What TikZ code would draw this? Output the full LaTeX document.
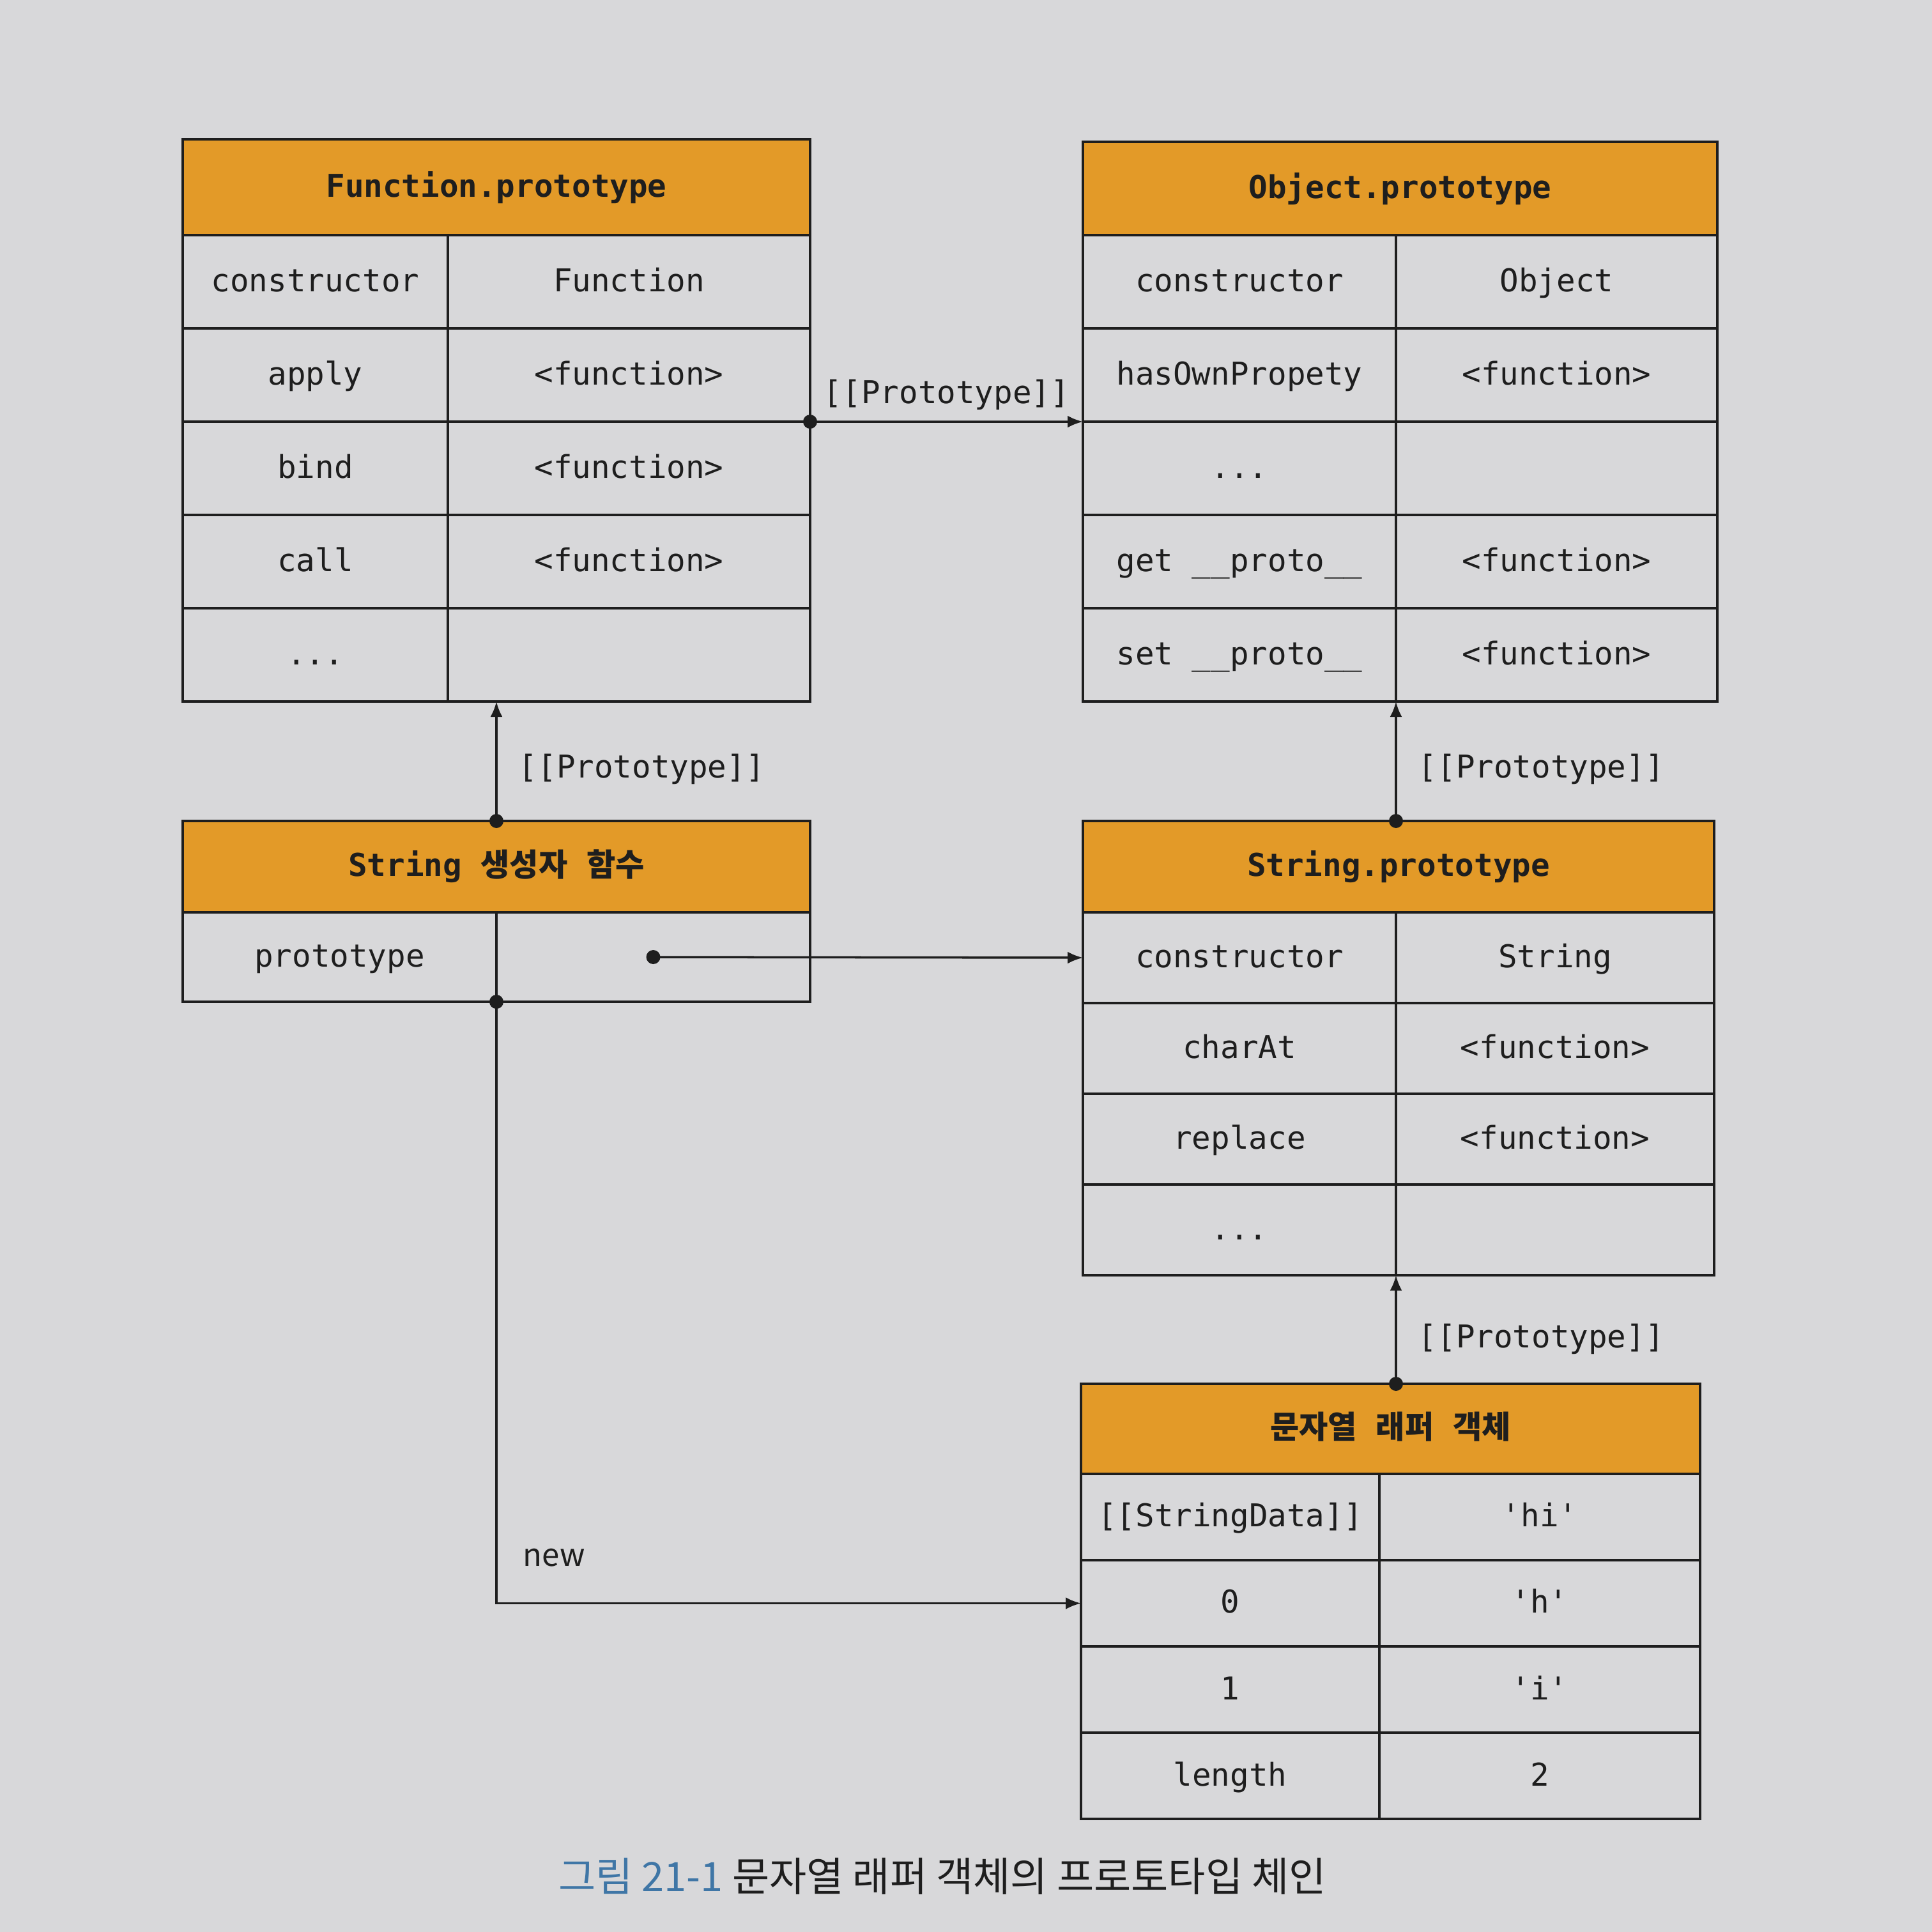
\documentclass[tikz,border=0pt]{standalone}
\usepackage{fontspec}
\setmonofont{DejaVu Sans Mono}
\newfontfamily\krfont{Noto Sans CJK KR}
\usetikzlibrary{arrows.meta,positioning}
\definecolor{paper}{HTML}{D8D8DA}
\definecolor{hdr}{HTML}{E39A28}
\definecolor{ink}{HTML}{1E1E1E}
\definecolor{capblue}{HTML}{3F76A6}
\newcommand\cellfont{\ttfamily\fontsize{14}{17}\selectfont}

\begin{document}
\begin{tikzpicture}[
  node distance=0pt,
  cell/.style={draw=ink,line width=1.3pt,inner sep=0pt,outer sep=0pt,text=ink,font=\cellfont,text height=0.88em,text depth=0pt},
  head/.style={cell,fill=hdr,font=\cellfont\bfseries},
  fnk/.style={cell,minimum width=4.15cm,minimum height=1.46cm},
  fnv/.style={cell,minimum width=5.67cm,minimum height=1.46cm},
  objk/.style={cell,minimum width=4.90cm,minimum height=1.46cm},
  objv/.style={cell,minimum width=5.03cm,minimum height=1.46cm},
  ctork/.style={cell,minimum width=4.91cm,minimum height=1.40cm},
  ctorv/.style={cell,minimum width=4.91cm,minimum height=1.40cm},
  spk/.style={cell,minimum width=4.90cm,minimum height=1.42cm},
  spv/.style={cell,minimum width=4.98cm,minimum height=1.42cm},
  wrapk/.style={cell,minimum width=4.67cm,minimum height=1.35cm},
  wrapv/.style={cell,minimum width=5.02cm,minimum height=1.35cm},
  link/.style={-{Latex[length=2.4mm,width=1.9mm]},line width=1pt,draw=ink},
  dot/.style={circle,fill=ink,inner sep=0pt,minimum size=2.2mm},
  lbl/.style={inner sep=0pt,text=ink,font=\cellfont}
]
  \fill[paper] (0,0) rectangle (30.24,-30.24);
  \useasboundingbox (0,0) rectangle (30.24,-30.24);

  % Function.prototype
  \node[head,minimum width=9.82cm,minimum height=1.50cm,anchor=north west] (fn) at (2.86,-2.18) {Function.prototype};
  \node[fnk,below=of fn.south west,anchor=north west] (fnk1) {constructor};
  \node[fnv,right=of fnk1] (fnv1) {Function};
  \node[fnk,below=of fnk1] (fnk2) {apply};
  \node[fnv,right=of fnk2] (fnv2) {<function>};
  \node[fnk,below=of fnk2] (fnk3) {bind};
  \node[fnv,right=of fnk3] (fnv3) {<function>};
  \node[fnk,below=of fnk3] (fnk4) {call};
  \node[fnv,right=of fnk4] (fnv4) {<function>};
  \node[fnk,below=of fnk4] (fnk5) {...};
  \node[fnv,right=of fnk5] (fnv5) {};

  % Object.prototype
  \node[head,minimum width=9.93cm,minimum height=1.46cm,anchor=north west] (obj) at (16.95,-2.22) {Object.prototype};
  \node[objk,below=of obj.south west,anchor=north west] (objk1) {constructor};
  \node[objv,right=of objk1] (objv1) {Object};
  \node[objk,below=of objk1] (objk2) {hasOwnPropety};
  \node[objv,right=of objk2] (objv2) {<function>};
  \node[objk,below=of objk2] (objk3) {...};
  \node[objv,right=of objk3] (objv3) {};
  \node[objk,below=of objk3] (objk4) {get \_\_proto\_\_};
  \node[objv,right=of objk4] (objv4) {<function>};
  \node[objk,below=of objk4] (objk5) {set \_\_proto\_\_};
  \node[objv,right=of objk5] (objv5) {<function>};

  % String constructor
  \node[head,minimum width=9.82cm,minimum height=1.43cm,anchor=north west] (ctor) at (2.86,-12.85) {String {\krfont 생성자} {\krfont 함수}};
  \node[ctork,below=of ctor.south west,anchor=north west] (ctork1) {prototype};
  \node[ctorv,right=of ctork1] (ctorv1) {};

  % String.prototype
  \node[head,minimum width=9.88cm,minimum height=1.43cm,anchor=north west] (sp) at (16.95,-12.85) {String.prototype};
  \node[spk,below=of sp.south west,anchor=north west] (spk1) {constructor};
  \node[spv,right=of spk1] (spv1) {String};
  \node[spk,below=of spk1] (spk2) {charAt};
  \node[spv,right=of spk2] (spv2) {<function>};
  \node[spk,below=of spk2] (spk3) {replace};
  \node[spv,right=of spk3] (spv3) {<function>};
  \node[spk,below=of spk3] (spk4) {...};
  \node[spv,right=of spk4] (spv4) {};

  % wrapper object
  \node[head,minimum width=9.69cm,minimum height=1.41cm,anchor=north west] (wrap) at (16.92,-21.66) {{\krfont 문자열} {\krfont 래퍼} {\krfont 객체}};
  \node[wrapk,below=of wrap.south west,anchor=north west] (wrapk1) {[[StringData]]};
  \node[wrapv,right=of wrapk1] (wrapv1) {'hi'};
  \node[wrapk,below=of wrapk1] (wrapk2) {0};
  \node[wrapv,right=of wrapk2] (wrapv2) {'h'};
  \node[wrapk,below=of wrapk2] (wrapk3) {1};
  \node[wrapv,right=of wrapk3] (wrapv3) {'i'};
  \node[wrapk,below=of wrapk3] (wrapk4) {length};
  \node[wrapv,right=of wrapk4] (wrapv4) {2};

  % links
  \node[dot] (fndot) at (fnv2.south east) {};
  \draw[link] (fndot.center) -- (objk2.south west) node[lbl,midway,above=1.7mm] (fnlbl) {[[Prototype]]};
  \node[dot] (ctordot) at (ctork1.north east |- ctor.north) {};
  \draw[link] (ctordot.center) -- (ctordot.center |- fnk5.south) node[lbl,midway,right=3.3mm,yshift=-1.2mm] (ctorlbl) {[[Prototype]]};
  \node[dot] (spdot) at (spk1.north east |- sp.north) {};
  \draw[link] (spdot.center) -- (objk5.south east) node[lbl,midway,right=3.3mm,yshift=-1.2mm] (splbl) {[[Prototype]]};
  \node[dot] (ptrdot) at (ctorv1.center) {};
  \draw[link] (ptrdot.center) -- (spk1.west);
  \node[dot] (newdot) at (ctork1.south east) {};
  \coordinate (newbend) at (newdot |- wrapk2.west);
  \draw[link] (newdot.center) -- (newbend) -- (wrapk2.west);
  \node[inner sep=0pt,text=ink,font=\krfont\fontsize{14}{17}\selectfont,above right=5.7mm and 4.1mm of newbend] (newlbl) {new};
  \node[dot] (wrapdot) at (spk4.south east |- wrap.north) {};
  \draw[link] (wrapdot.center) -- (spk4.south east) node[lbl,midway,right=3.3mm,yshift=-1.5mm] (wraplbl) {[[Prototype]]};

  \node[text=ink,font=\krfont\fontsize{18}{21}\selectfont] (caption) at (14.75,-29.37) {\textcolor{capblue}{그림 21-1} 문자열 래퍼 객체의 프로토타입 체인};
\end{tikzpicture}
\end{document}
